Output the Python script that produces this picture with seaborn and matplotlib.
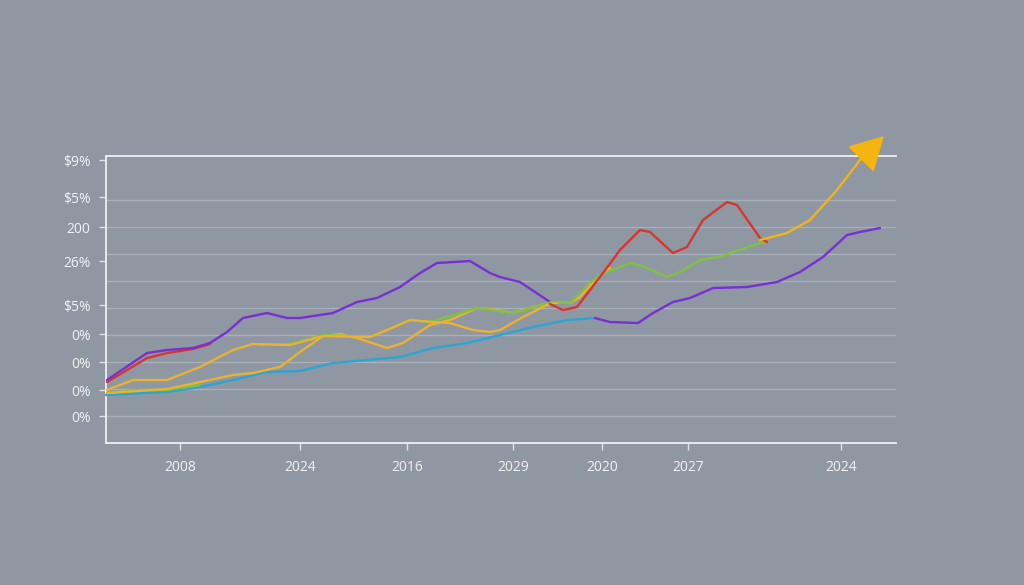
import matplotlib
matplotlib.use("Agg")
import matplotlib.pyplot as plt
import seaborn as sns
import pandas as pd

BG = "#8f97a3"
GRID = "#aab0b9"
TXT = "#f2f2f2"

# x: horizontal position along the axis (0-790), y: level above the baseline (0-287)
purple_a_x = [1, 41, 61, 87, 104, 121, 137, 161, 181, 194, 227, 251, 271, 294, 314, 331, 364, 384, 394, 414, 441, 449]
purple_a_y = [63, 90, 93, 95, 100, 111, 125, 130, 125, 125, 130, 141, 145, 156, 170, 180, 182, 170, 166, 161, 143, 138]
purple_b_x = [489, 504, 532, 547, 567, 584, 607, 641, 671, 694, 717, 741, 754, 774]
purple_b_y = [125, 121, 120, 130, 141, 145, 155, 156, 161, 171, 186, 208, 211, 215]

red_a_x = [1, 41, 61, 87, 104]
red_a_y = [61, 85, 90, 94, 99]
red_b_x = [444, 457, 471, 484, 497, 514, 534, 544, 567, 581, 597, 621, 631, 654, 661]
red_b_y = [139, 133, 136, 153, 170, 193, 213, 211, 190, 196, 223, 241, 238, 205, 201]

cyan_x = [0, 61, 94, 127, 161, 194, 227, 261, 294, 327, 361, 394, 427, 461, 489]
cyan_y = [48, 51, 56, 63, 71, 72, 80, 83, 86, 95, 100, 108, 116, 123, 125]

green_a_x = [1, 27, 61, 94]
green_a_y = [50, 53, 53, 58]
green_b_x = [154, 184, 217, 264, 281, 304, 324, 371, 407, 447, 464, 487, 501, 524, 537, 561, 574, 594, 617, 627, 654, 661]
green_b_y = [98, 99, 108, 106, 113, 123, 121, 135, 130, 141, 140, 163, 171, 180, 177, 166, 171, 183, 187, 191, 200, 201]

yellow1_x = [1, 27, 61, 94, 127, 147, 184, 217, 264, 281, 304, 327, 344, 367, 384, 394, 417, 441, 451]
yellow1_y = [53, 63, 63, 76, 93, 99, 98, 107, 106, 113, 123, 121, 120, 113, 111, 113, 126, 138, 140]
yellow2_x = [1, 61, 94, 127, 147, 174, 194, 217, 234, 251, 281, 297, 324, 344, 371, 384, 407, 424, 447, 464, 474, 491, 504]
yellow2_y = [50, 54, 61, 68, 70, 76, 91, 107, 109, 105, 95, 100, 118, 123, 135, 134, 130, 135, 141, 140, 146, 165, 175]
trend_x = [654, 681, 704, 731, 754, 778]
trend_y = [203, 210, 223, 253, 283, 307]

y_ticks = [283, 246, 216, 182, 138, 109, 81, 53, 27]
y_labels = ["$9%", "$5%", "200", "26%", "$5%", "0%", "0%", "0%", "0%"]
x_ticks = [74, 194, 301, 407, 496, 582, 735]
x_labels = ["2008", "2024", "2016", "2029", "2020", "2027", "2024"]
grid_levels = [27, 54, 81, 108, 135, 162, 189, 216, 243]

sns.set_style("ticks", {"axes.facecolor": BG, "figure.facecolor": BG})
plt.rcParams["font.family"] = ["Open Sans", "DejaVu Sans"]

fig = plt.figure(figsize=(10.24, 5.85), dpi=100)
ax = fig.add_axes([0.1035, 0.2427, 0.7715, 0.4906])
ax.set_facecolor(BG)

for g in grid_levels:
    ax.axhline(g, color=GRID, lw=1.0, zorder=1)

segments = [
    (cyan_x, cyan_y, "#2aa6d4", 3),
    (red_a_x, red_a_y, "#d8362c", 3),
    (purple_a_x, purple_a_y, "#7a2fd2", 4),
    (purple_b_x, purple_b_y, "#7a2fd2", 4),
    (green_a_x, green_a_y, "#7fc241", 4),
    (yellow2_x, yellow2_y, "#e9b230", 5),
    (green_b_x, green_b_y, "#7fc241", 5),
    (yellow1_x, yellow1_y, "#e9b230", 6),
    (red_b_x, red_b_y, "#d8362c", 6),
    (trend_x[:-1], trend_y[:-1], "#f0b41c", 7),
]
for xs, ys, col, z in segments:
    df = pd.DataFrame({"x": xs, "y": ys})
    sns.lineplot(data=df, x="x", y="y", ax=ax, color=col, lw=1.7, zorder=z,
                 sort=False, estimator=None, clip_on=False,
                 solid_capstyle="round", solid_joinstyle="round")

ax.annotate("", xy=(trend_x[-1], trend_y[-1]), xytext=(trend_x[-2], trend_y[-2]),
            annotation_clip=False, zorder=8,
            arrowprops=dict(arrowstyle="-|>,head_length=1.0,head_width=0.55",
                            mutation_scale=21, color="#f5b50f", lw=1.7,
                            shrinkA=0, shrinkB=0))

ax.set_xlim(0, 790)
ax.set_ylim(0, 287)
ax.set_xticks(x_ticks)
ax.set_xticklabels(x_labels)
ax.set_yticks(y_ticks)
ax.set_yticklabels(y_labels)
ax.set_xlabel("")
ax.set_ylabel("")
ax.tick_params(axis="both", colors="#dfe2e6", labelcolor=TXT, labelsize=10, length=5, width=1)
ax.tick_params(axis="x", pad=7)
ax.tick_params(axis="y", pad=6)

for side in ["left", "bottom", "top"]:
    ax.spines[side].set_color("#eef0f2")
    ax.spines[side].set_linewidth(1.3)
ax.spines["right"].set_visible(False)

fig.savefig("out.png", dpi=100, facecolor=BG)
